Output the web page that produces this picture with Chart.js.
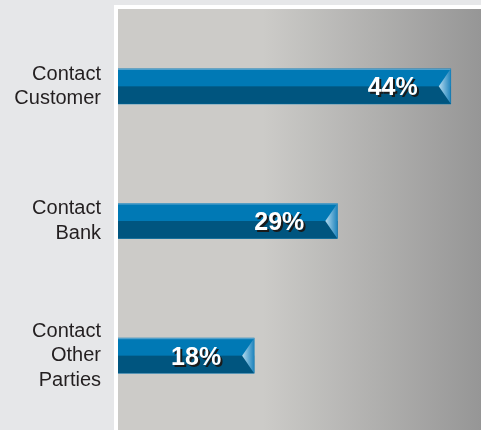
<!DOCTYPE html>
<html>
<head>
<meta charset="utf-8">
<script src="https://cdn.jsdelivr.net/npm/chart.js@4/dist/chart.umd.min.js"></script>
<style>
  html, body { margin: 0; padding: 0; background: #e6e7e9; overflow: hidden; }
  #wrap { position: relative; width: 481px; height: 430px; }
  /* plot panel with white frame on left/top */
  #panel {
    position: absolute; left: 114px; top: 5px; right: 0; bottom: 0;
    border-left: 4px solid #fff; border-top: 4px solid #fff;
    background: linear-gradient(to right, #cccbc8 0%, #cccbc8 40%, #969696 100%);
  }
  canvas { position: absolute; left: 0; top: 0; }
</style>
</head>
<body>
<div id="wrap">
  <div id="panel"></div>
  <canvas id="chart" width="481" height="430"></canvas>
</div>
<script>
const categories = [["Contact", "Customer"], ["Contact", "Bank"], ["Contact", "Other", "Parties"]];
const shares = [44, 29, 18];
const axisMax = 48;

const topBlue = "#0079b5";
const lowBlue = "#00557f";

// second tone, arrow notch and value label for each bar
const barDecor = {
  id: "barDecor",
  afterDatasetDraw(chart, args) {
    const ctx = chart.ctx;
    const meta = args.meta;
    meta.data.forEach((bar, i) => {
      const h = bar.height;
      const top = bar.y - h / 2;
      const left = Math.min(bar.base, bar.x);
      const right = bar.x;
      ctx.save();
      // darker lower half
      ctx.fillStyle = lowBlue;
      ctx.fillRect(left, bar.y, right - left, h / 2);
      // thin highlight along top edge
      ctx.fillStyle = "rgba(160,200,225,0.6)";
      ctx.fillRect(left, top, right - left, 1);
      // notch at bar end
      const g = ctx.createLinearGradient(right - 12, 0, right, 0);
      g.addColorStop(0, "#b5dbef");
      g.addColorStop(1, "#1f84bd");
      ctx.fillStyle = g;
      ctx.beginPath();
      ctx.moveTo(right, top);
      ctx.lineTo(right - 12, bar.y);
      ctx.lineTo(right, top + h);
      ctx.closePath();
      ctx.fill();
      // value label
      ctx.font = "bold 25px 'Liberation Sans', Arial, sans-serif";
      ctx.textAlign = "right";
      ctx.textBaseline = "middle";
      const tx = right - 33, ty = bar.y + 2;
      ctx.fillStyle = "#1a1a1a";
      ctx.fillText(shares[i] + "%", tx + 2, ty + 2);
      ctx.fillStyle = "#ffffff";
      ctx.fillText(shares[i] + "%", tx, ty);
      ctx.restore();
    });
  }
};

new Chart(document.getElementById("chart"), {
  type: "bar",
  data: {
    labels: categories,
    datasets: [{
      data: shares,
      backgroundColor: topBlue,
      borderWidth: 0,
      barThickness: 35
    }]
  },
  options: {
    indexAxis: "y",
    responsive: false,
    animation: false,
    layout: { padding: { top: 19, bottom: 7, left: 0, right: 0 } },
    plugins: { legend: { display: false }, tooltip: { enabled: false } },
    scales: {
      x: { display: false, min: 0, max: axisMax },
      y: {
        afterFit(scale) {
          scale.width = 118;
          scale.paddingTop = 0;
          scale.paddingBottom = 0;
        },
        grid: { display: false, drawTicks: false },
        border: { display: false },
        ticks: {
          padding: 17,
          color: "#231f20",
          font: { family: "'Liberation Sans', Arial, sans-serif", size: 20, lineHeight: 1.22 }
        }
      }
    }
  },
  plugins: [barDecor]
});
</script>
</body>
</html>
